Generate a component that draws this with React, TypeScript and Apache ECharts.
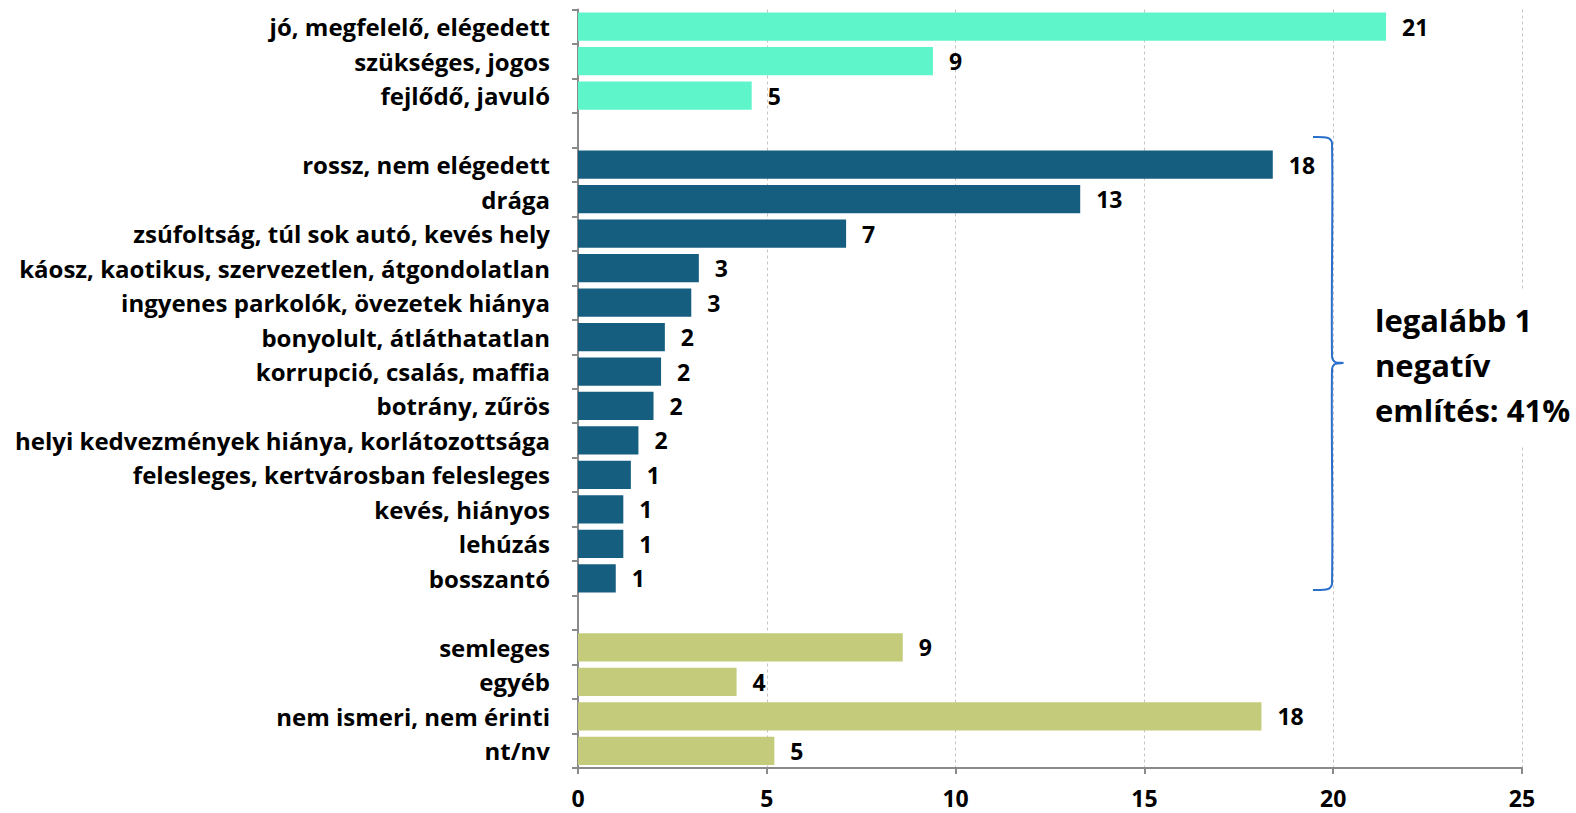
import React, { useEffect, useRef } from "react";
import * as echarts from "echarts";

const positiveCats = ["jó, megfelelő, elégedett", "szükséges, jogos", "fejlődő, javuló"];
const positiveVals = [21.4, 9.4, 4.6];

const negativeCats = [
  "rossz, nem elégedett",
  "drága",
  "zsúfoltság, túl sok autó, kevés hely",
  "káosz, kaotikus, szervezetlen, átgondolatlan",
  "ingyenes parkolók, övezetek hiánya",
  "bonyolult, átláthatatlan",
  "korrupció, csalás, maffia",
  "botrány, zűrös",
  "helyi kedvezmények hiánya, korlátozottsága",
  "felesleges, kertvárosban felesleges",
  "kevés, hiányos",
  "lehúzás",
  "bosszantó",
];
const negativeVals = [18.4, 13.3, 7.1, 3.2, 3.0, 2.3, 2.2, 2.0, 1.6, 1.4, 1.2, 1.2, 1.0];

const neutralCats = ["semleges", "egyéb", "nem ismeri, nem érinti", "nt/nv"];
const neutralVals = [8.6, 4.2, 18.1, 5.2];

const xTicks = { min: 0, max: 25, interval: 5 };

const FONT = "'Open Sans'";

export default function App() {
  const ref = useRef<HTMLDivElement>(null);

  useEffect(() => {
    document.body.style.margin = "0";
    if (!ref.current) return;
    const chart = echarts.init(ref.current, undefined, { renderer: "svg" });

    const categories = [...positiveCats, " ", ...negativeCats, "  ", ...neutralCats];
    const n = categories.length;
    const pad = (vals: number[], start: number) => {
      const arr: (number | string)[] = new Array(n).fill("-");
      vals.forEach((v, i) => (arr[start + i] = v));
      return arr;
    };
    const posStart = 0;
    const negStart = positiveCats.length + 1;
    const neuStart = negStart + negativeCats.length + 1;

    const label = {
      show: true,
      position: "right" as const,
      distance: 16,
      color: "#000",
      fontFamily: FONT,
      fontWeight: "bold" as const,
      fontSize: 23,
      formatter: (p: any) => String(Math.round(p.value)),
    };

    const mk = (name: string, data: any[], color: string) => ({
      name,
      type: "bar" as const,
      stack: "all",
      data,
      barCategoryGap: "18%",
      itemStyle: { color },
      label,
    });

    chart.setOption({
      animation: false,
      grid: { left: 578, right: 54, top: 9.5, bottom: 45, containLabel: false },
      xAxis: {
        type: "value",
        min: xTicks.min,
        max: xTicks.max,
        interval: xTicks.interval,
        axisLine: { show: true, lineStyle: { color: "#8a8a8a", width: 2 } },
        axisTick: { show: true, length: 6, lineStyle: { color: "#8a8a8a", width: 2 } },
        splitLine: { show: true, lineStyle: { color: "#c4c4c4", type: [3, 3], width: 1 } },
        axisLabel: {
          color: "#000",
          fontFamily: FONT,
          fontWeight: "bold",
          fontSize: 23,
          margin: 18,
        },
      },
      yAxis: {
        type: "category",
        inverse: true,
        data: categories,
        axisLine: { show: true, lineStyle: { color: "#8a8a8a", width: 2 } },
        axisTick: { show: true, length: 6, lineStyle: { color: "#8a8a8a", width: 2 } },
        axisLabel: {
          color: "#000",
          fontFamily: FONT,
          fontWeight: "bold",
          fontSize: 24,
          margin: 28,
        },
      },
      series: [
        mk("pozitív", pad(positiveVals, posStart), "#5ff5cb"),
        mk("negatív", pad(negativeVals, negStart), "#165e80"),
        mk("semleges", pad(neutralVals, neuStart), "#c4cb7a"),
      ],
      graphic: [
        {
          type: "rect",
          shape: { x: 1364, y: 290, width: 212, height: 155 },
          style: { fill: "#fff" },
          z: 10,
        },
        {
          type: "polyline",
          shape: {
            points: [
              [1313, 137],
              [1328, 138],
              [1332, 143],
              [1332, 356],
              [1335, 362],
              [1343, 363],
              [1335, 364],
              [1332, 370],
              [1332, 584],
              [1328, 589],
              [1313, 590],
            ],
            smooth: 0.3,
          },
          style: { stroke: "#2a6fcb", lineWidth: 2, fill: "none" },
          z: 11,
        },
        {
          type: "text",
          x: 1375,
          y: 297,
          z: 12,
          style: {
            text: "legalább 1\nnegatív\nemlítés: 41%",
            fill: "#000",
            font: `bold 31px ${FONT}`,
            lineHeight: 45,
          },
        },
      ],
    });

    return () => chart.dispose();
  }, []);

  return <div ref={ref} style={{ width: 1576, height: 813 }} />;
}
